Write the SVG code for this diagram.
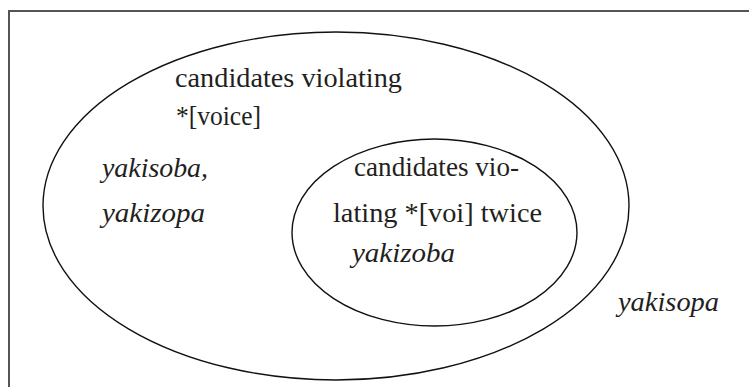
<svg xmlns="http://www.w3.org/2000/svg" width="749" height="387" viewBox="0 0 749 387">
  <style>
    .frame { fill: none; stroke: #555555; stroke-width: 2; }
    .set { fill: none; stroke: #111111; stroke-width: 1.4; }
    text { font-family: "Liberation Serif", serif; font-size: 28px; fill: #231f20; }
    .it { font-style: italic; }
  </style>
  <rect width="749" height="387" fill="#ffffff"/>
  <!-- frame: only the left and top edges fall inside the view -->
  <rect class="frame" x="9" y="11" width="760" height="400"/>

  <g id="outer-set">
    <ellipse class="set" cx="336" cy="206" rx="293" ry="174"/>
    <text x="175" y="87" textLength="227" lengthAdjust="spacingAndGlyphs">candidates violating</text>
    <text x="176" y="125" textLength="85" lengthAdjust="spacingAndGlyphs">*[voice]</text>
    <text class="it" x="102" y="177" textLength="106" lengthAdjust="spacingAndGlyphs">yakisoba,</text>
    <text class="it" x="102" y="222" textLength="103" lengthAdjust="spacingAndGlyphs">yakizopa</text>
  </g>

  <g id="inner-set">
    <ellipse class="set" cx="434.5" cy="232.5" rx="142.5" ry="93.5"/>
    <text x="354" y="176" textLength="165" lengthAdjust="spacingAndGlyphs">candidates vio-</text>
    <text x="333" y="222" textLength="209" lengthAdjust="spacingAndGlyphs">lating *[voi] twice</text>
    <text class="it" x="352" y="262" textLength="103" lengthAdjust="spacingAndGlyphs">yakizoba</text>
  </g>

  <g id="outside">
    <text class="it" x="618" y="311" textLength="101" lengthAdjust="spacingAndGlyphs">yakisopa</text>
  </g>
</svg>
